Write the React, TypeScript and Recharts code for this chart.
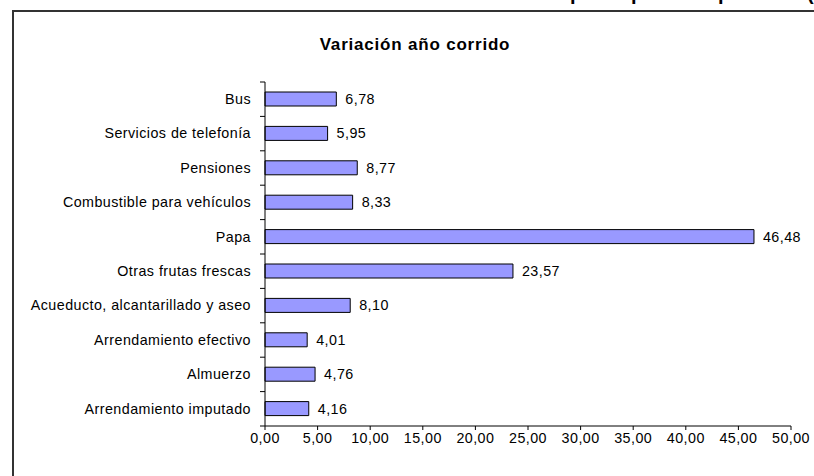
import React from "react";
import { BarChart, Bar, XAxis, YAxis, LabelList } from "recharts";

const categories = [
  "Bus",
  "Servicios de telefonía",
  "Pensiones",
  "Combustible para vehículos",
  "Papa",
  "Otras frutas frescas",
  "Acueducto, alcantarillado y aseo",
  "Arrendamiento efectivo",
  "Almuerzo",
  "Arrendamiento imputado",
];
const values = [6.78, 5.95, 8.77, 8.33, 46.48, 23.57, 8.1, 4.01, 4.76, 4.16];
const xTicks = [0, 5, 10, 15, 20, 25, 30, 35, 40, 45, 50];

const data = categories.map((name, i) => ({ name, value: values[i] }));

const FONT = "'Liberation Sans', Arial, sans-serif";
const fmt = (v: number) => v.toFixed(2).replace(".", ",");
const labelStyle = { fill: "#000", fontSize: 14.3, fontFamily: FONT, letterSpacing: 0.45 };

// fragments of a clipped heading above the frame
const clipped = [
  { ch: "p", left: 570 },
  { ch: "p", left: 631 },
  { ch: "p", left: 718 },
  { ch: "(", left: 807 },
];

// Excel-style tick marks between categories instead of at their centres
function BoundaryTick(props: any) {
  const { x, y, payload, index, visibleTicksCount } = props;
  const half = payload && payload.offset ? payload.offset : 17.2;
  return (
    <g>
      <line x1={x - 5} x2={x} y1={y - half} y2={y - half} stroke="#000" />
      {index === visibleTicksCount - 1 && (
        <line x1={x - 5} x2={x} y1={y + half} y2={y + half} stroke="#000" />
      )}
    </g>
  );
}

export default function App() {
  return (
    <div
      style={{
        position: "absolute",
        left: 0,
        top: 0,
        width: 814,
        height: 476,
        overflow: "hidden",
        background: "#fff",
        fontFamily: FONT,
      }}
    >
      {clipped.map((c, i) => (
        <span
          key={i}
          style={{
            position: "absolute",
            left: c.left,
            top: -17,
            fontSize: 20,
            lineHeight: "20px",
            fontWeight: "bold",
            color: "#000",
          }}
        >
          {c.ch}
        </span>
      ))}
      <div
        style={{
          position: "absolute",
          left: 12,
          top: 10,
          width: 820,
          height: 480,
          border: "2px solid #333",
          boxSizing: "border-box",
        }}
      />
      <div
        style={{
          position: "absolute",
          left: 0,
          width: 830,
          top: 35,
          textAlign: "center",
          fontSize: 17,
          letterSpacing: 0.8,
          fontWeight: "bold",
          color: "#000",
        }}
      >
        Variación año corrido
      </div>
      <div style={{ position: "absolute", left: 0, top: 0 }}>
        <BarChart
          width={814}
          height={476}
          data={data}
          layout="vertical"
          margin={{ top: 82, right: 23, left: 255, bottom: 20 }}
        >
          <XAxis
            type="number"
            domain={[0, 50]}
            ticks={xTicks}
            tickFormatter={fmt}
            height={30}
            tickSize={4}
            tickMargin={3}
            stroke="#000"
            tick={labelStyle}
            interval={0}
          />
          <YAxis
            type="category"
            dataKey="name"
            width={10}
            tickSize={0}
            tickMargin={0}
            tickLine={false}
            stroke="#000"
            tick={<BoundaryTick />}
            interval={0}
          />
          <Bar
            dataKey="value"
            fill="#9999FF"
            stroke="#000"
            strokeWidth={1}
            barSize={14}
            isAnimationActive={false}
          >
            <LabelList
              dataKey="value"
              position="right"
              offset={9}
              formatter={(v: any) => fmt(Number(v))}
              style={labelStyle}
            />
            <LabelList dataKey="name" position="left" offset={14} style={labelStyle} />
          </Bar>
        </BarChart>
      </div>
    </div>
  );
}
